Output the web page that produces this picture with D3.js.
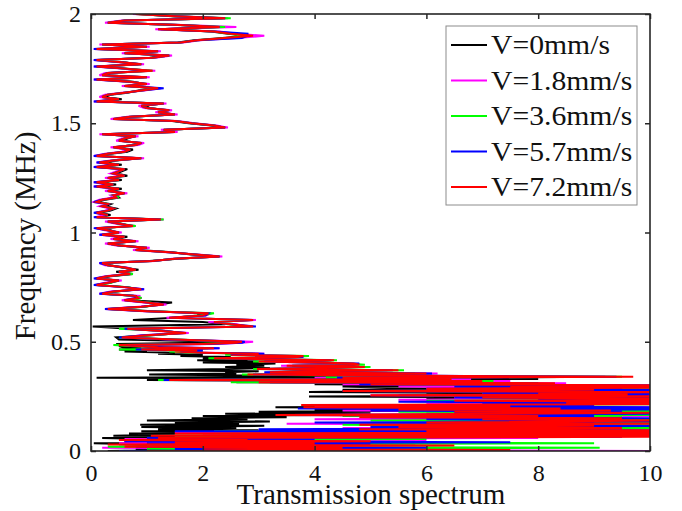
<!DOCTYPE html>
<html><head><meta charset="utf-8">
<script src="https://cdn.jsdelivr.net/npm/d3@7"></script>
<style>body{margin:0;background:#fff}text{font-family:"Liberation Serif","Times New Roman",serif;fill:#111}</style>
</head><body>
<script>
const xTicks=[0,2,4,6,8,10];
const yTicks=[0,0.5,1,1.5,2];
const seriesNames=["V=0mm/s","V=1.8mm/s","V=3.6mm/s","V=5.7mm/s","V=7.2mm/s"];
const seriesColors=["#000000","#ff00ff","#00ff00","#0000ff","#ff0000"];
const freq=[0,0.005,0.01,0.015,0.02,0.025,0.03,0.035,0.04,0.045,0.05,0.055,0.06,0.065,0.07,0.075,0.08,0.085,0.09,0.095,0.1,0.105,0.11,0.115,0.12,0.125,0.13,0.135,0.14,0.145,0.15,0.155,0.16,0.165,0.17,0.175,0.18,0.185,0.19,0.195,0.2,0.205,0.21,0.215,0.22,0.225,0.23,0.235,0.24,0.245,0.25,0.255,0.26,0.265,0.27,0.275,0.28,0.285,0.29,0.295,0.3,0.305,0.31,0.315,0.32,0.325,0.33,0.335,0.34,0.345,0.35,0.355,0.36,0.365,0.37,0.375,0.38,0.385,0.39,0.395,0.4,0.405,0.41,0.415,0.42,0.425,0.43,0.435,0.44,0.445,0.45,0.455,0.46,0.465,0.47,0.475,0.48,0.485,0.49,0.495,
0.5,0.51,0.52,0.53,0.54,0.55,0.56,0.57,0.58,0.59,0.6,0.61,0.62,0.63,0.64,0.65,0.66,0.67,0.68,0.69,0.7,0.71,0.72,0.73,0.74,0.75,0.76,0.77,0.78,0.79,0.8,0.81,0.82,0.83,0.84,0.85,0.86,0.87,0.88,0.89,0.9,0.91,0.92,0.93,0.94,0.95,0.96,0.97,0.98,0.99,1,1.01,1.02,1.03,1.04,1.05,1.06,1.07,1.08,1.09,1.1,1.11,1.12,1.13,1.14,1.15,1.16,1.17,1.18,1.19,1.2,1.21,1.22,1.23,1.24,1.25,1.26,1.27,1.28,1.29,1.3,1.31,1.32,1.33,1.34,1.35,1.36,1.37,1.38,1.39,1.4,1.41,1.42,1.43,1.44,1.45,1.46,1.47,1.48,1.49,1.5,1.51,1.52,1.53,1.54,1.55,1.56,1.57,1.58,1.59,1.6,1.61,1.62,1.63,1.64,1.65,1.66,1.67,1.68,1.69,1.7,1.71,1.72,1.73,1.74,1.75,1.76,1.77,1.78,1.79,1.8,1.81,1.82,1.83,1.84,1.85,1.86,1.87,1.88,1.89,1.9,1.91,1.92,1.93,1.94,1.95,1.96,1.97,1.98,1.99,2];

const v0=[0.3,1.5,0.8,3.0,0.5,2.0,1.0,0.05,2.5,0.6,3.5,1.0,0.2,6.0,0.4,1.5,0.68,5.0,0.9,3.0,
1.2,2.6,0.9,3.1,0.88,2.65,1.5,3.2,1.0,2.8,1.8,3.5,2.0,4.0,2.4,5.0,3.0,6.5,4.0,7.0,
3.3,8.0,5.5,9.0,6.5,8.5,7.0,9.5,6.0,9.0,3.9,9.2,6.0,8.0,3.9,5.3,4.5,7.0,5.3,4.5,
8.0,4.0,7.5,2.6,6.0,1.0,8.0,0.1,4.5,2.9,1.04,2.6,2.4,3.0,1.0,2.45,3.2,2.4,3.1,2.6,
3.3,2.0,3.0,1.9,2.8,2.0,2.5,1.6,2.0,1.2,1.5,0.6,1.0,0.5,0.9,0.57,0.5,0.8,0.45,2.0,
2.5,0.5,0.45,1.1,1.6,1.3,0.7,0.03,2.4,2.0,0.75,1.5,1.9,2.0,1.1,0.35,0.95,1.2,1.45,0.65,
0.9,0.75,0.25,0.45,0.85,0.65,0.12,0.35,0.45,0.15,0.35,0.75,0.45,0.85,0.55,0.35,0.25,1.05,1.55,2.25,
1.75,1.45,0.85,0.95,0.55,0.35,0.75,0.45,0.65,0.25,0.45,0.35,0.15,0.7,0.55,0.35,1.2,0.12,0.35,0.15,
0.35,0.45,0.25,0.35,0.12,0.25,0.5,0.45,0.55,0.35,0.55,0.15,0.45,0.12,0.55,0.35,0.65,0.45,0.55,0.65,
0.12,0.55,0.2,0.45,0.85,0.15,0.35,0.65,0.75,0.45,0.75,0.85,0.55,0.65,0.75,0.25,1.45,1.35,2.35,2.15,
1.75,1.45,0.45,0.75,1.45,1.25,1.35,1.05,0.95,1.25,0.15,0.55,0.25,0.35,0.65,0.85,1.15,0.65,0.95,0.75,
0.15,0.95,0.25,0.35,1.05,0.65,0.15,0.85,0.55,0.15,1.05,1.35,0.65,1.15,0.15,0.95,0.25,1.55,1.85,2.35,
2.8,2.45,2.15,1.25,2.25,1.55,0.35,0.65,2.35,1.45,0.85];

const v18=[10.5,2.0,6.5,0.2,4.0,1.0,5.8,0.5,3.0,1.2,6.0,0.6,8.0,1.5,9.0,2.0,7.5,1.5,9.5,3.0,
8.0,4.5,10.5,5.0,8.5,3.5,9.8,6.5,10.5,4.0,8.0,5.5,10.0,3.5,9.0,6.0,10.5,4.5,8.5,7.0,
10.5,4.0,9.0,6.0,10.5,7.0,9.5,5.5,10.5,6.5,9.0,5.0,10.5,7.5,9.5,4.8,10.5,6.0,9.8,5.5,
9.0,4.5,8.5,3.0,7.5,1.5,6.8,4.0,9.2,4.8,3.0,6.2,3.5,4.2,5.3,3.0,4.0,4.7,3.4,4.6,
4.5,3.8,3.2,4.2,3.0,2.4,3.5,3.7,2.6,3.1,2.1,1.6,1.8,1.0,2.3,1.3,0.9,0.6,2.2,2.7,
2.9,1.4,0.6,0.9,1.75,1.15,0.7,2.8,2.6,2.1,2.95,1.35,2.05,2.15,0.95,0.25,0.85,1.35,0.95,0.55,
0.8,0.85,0.15,0.35,0.95,0.55,0.08,0.25,0.55,0.08,0.25,0.65,0.55,0.75,0.65,0.25,0.15,1.15,1.45,2.35,
1.85,1.35,0.75,1.05,0.45,0.25,0.85,0.35,0.55,0.15,0.55,0.25,0.08,0.8,0.45,0.25,1.3,0.08,0.25,0.08,
0.25,0.35,0.15,0.25,0.05,0.15,0.4,0.35,0.65,0.25,0.45,0.05,0.35,0.05,0.45,0.25,0.55,0.35,0.45,0.55,
0.05,0.45,0.1,0.35,0.95,0.05,0.25,0.55,0.65,0.35,0.85,0.95,0.45,0.55,0.85,0.15,1.55,1.25,2.45,2.25,
1.85,1.55,0.35,0.65,1.55,1.15,1.45,0.95,0.85,1.35,0.05,0.45,0.15,0.25,0.55,0.95,1.25,0.55,1.05,0.65,
0.05,1.05,0.15,0.25,1.15,0.55,0.05,0.95,0.45,0.05,1.15,1.45,0.55,1.25,0.05,1.05,0.15,1.65,1.95,2.6,
3.1,2.6,2.3,1.15,2.6,1.65,0.25,0.55,2.45,1.55,0.75];

const v36=[2.0,5.0,1.0,9.1,0.3,4.0,1.5,9.0,2.5,3.5,0.8,6.0,2.0,7.5,1.5,10.5,3.0,9.0,2.2,8.0,
4.0,10.5,5.5,8.0,4.5,10.5,7.0,10.5,5.0,10.5,6.5,9.5,4.5,10.5,7.0,10.5,5.5,10.5,6.0,10.5,
4.5,9.0,6.0,10.5,7.5,10.5,6.0,10.5,8.5,7.0,10.5,6.0,9.0,7.0,10.5,5.0,9.5,6.5,10.5,7.0,
9.5,5.5,8.0,2.5,7.2,1.2,6.0,4.2,9.5,4.5,2.7,5.8,3.3,3.8,5.6,2.9,4.3,5.0,3.6,4.9,
4.6,4.1,2.9,4.4,3.3,2.1,3.6,3.9,2.4,2.9,1.9,1.4,2.0,0.5,2.1,1.1,0.7,0.4,1.9,2.5,
2.6,1.55,0.5,1.05,1.65,1.25,0.5,2.85,2.45,2.25,2.85,1.45,1.95,2.2,1.05,0.3,0.95,1.25,1.05,0.65,
0.9,0.75,0.2,0.45,0.85,0.65,0.1,0.35,0.5,0.1,0.3,0.75,0.5,0.8,0.6,0.3,0.2,1.1,1.5,2.3,
1.8,1.4,0.8,1.0,0.5,0.3,0.8,0.4,0.6,0.2,0.5,0.3,0.1,0.8,0.5,0.3,1.3,0.1,0.3,0.1,
0.3,0.4,0.2,0.3,0.1,0.2,0.5,0.4,0.6,0.3,0.5,0.1,0.4,0.1,0.5,0.3,0.6,0.4,0.5,0.6,
0.1,0.5,0.15,0.4,0.9,0.1,0.3,0.6,0.7,0.4,0.8,0.9,0.5,0.6,0.8,0.2,1.5,1.3,2.4,2.2,
1.8,1.5,0.4,0.7,1.5,1.2,1.4,1.0,0.9,1.3,0.1,0.5,0.2,0.3,0.6,0.9,1.2,0.6,1.0,0.7,
0.1,1.0,0.2,0.3,1.1,0.6,0.1,0.9,0.5,0.1,1.1,1.4,0.6,1.2,0.1,1.0,0.2,1.6,1.9,2.5,
2.7,2.5,2.2,1.3,2.4,1.6,0.3,0.6,2.5,1.5,0.8];

const v57=[0.5,3.0,1.5,6.0,0.8,2.5,5.0,1.0,7.5,0.6,2.0,4.0,1.0,9.5,2.5,10.5,3.5,8.0,1.5,10.0,
3.0,8.5,5.0,10.5,6.0,9.0,4.0,10.2,8.5,6.0,10.5,5.0,9.0,3.5,10.0,6.5,9.5,5.0,10.5,3.7,
10.5,6.0,9.0,7.0,10.5,5.5,9.5,8.0,10.5,6.5,10.0,5.5,10.5,7.0,9.0,4.5,10.5,6.0,9.5,6.5,
10.5,4.8,8.0,3.2,6.8,1.3,6.2,4.4,9.4,5.2,2.9,6.1,3.1,4.1,5.4,3.1,4.1,4.8,3.6,4.7,
4.8,3.9,3.1,4.3,3.1,2.3,3.8,3.7,2.5,3.1,2.0,1.6,2.0,0.8,2.3,1.3,0.8,0.6,2.1,2.7,
2.75,1.45,0.5,0.95,1.7,1.25,0.6,2.95,2.5,2.2,2.9,1.4,2.05,2.1,1.0,0.25,0.9,1.3,1.0,0.6,
0.8,0.8,0.15,0.4,0.95,0.6,0.05,0.3,0.5,0.05,0.3,0.7,0.5,0.8,0.6,0.3,0.15,1.1,1.5,2.3,
1.8,1.4,0.8,1.0,0.5,0.3,0.8,0.4,0.6,0.15,0.5,0.3,0.05,0.75,0.5,0.3,1.25,0.05,0.3,0.05,
0.3,0.4,0.2,0.3,0.05,0.2,0.45,0.4,0.6,0.3,0.5,0.05,0.4,0.05,0.5,0.3,0.6,0.4,0.5,0.6,
0.05,0.5,0.1,0.4,0.9,0.05,0.3,0.6,0.7,0.4,0.8,0.9,0.5,0.6,0.8,0.2,1.5,1.3,2.4,2.2,
1.8,1.5,0.4,0.7,1.5,1.2,1.4,1.0,0.9,1.3,0.05,0.5,0.2,0.3,0.6,0.9,1.3,0.6,1.0,0.7,
0.05,1.0,0.2,0.3,1.0,0.6,0.05,0.9,0.5,0.05,1.1,1.4,0.6,1.2,0.05,1.0,0.2,1.6,1.9,2.7,
2.8,2.8,2.2,1.2,2.3,1.6,0.3,0.6,2.4,1.5,0.9];

const v72=[1.0,7.5,2.0,4.5,0.6,6.5,0.3,4.0,1.5,5.0,0.5,2.8,1.2,10.5,1.07,11,1.5,10.5,6.0,10.5,
4.8,9.5,5.5,9.0,4.8,11,6.0,8.5,10.2,7.0,9.5,4.8,8.0,3.3,7.5,10,6.5,9.3,5.5,8.4,
3.8,7.5,3.76,11,8.5,11,6.5,11,9.8,7.0,10.5,5.0,9.6,8.0,10.5,4.5,9.0,6.0,10.5,7.5,
10.5,5.0,8.3,3.0,7.0,1.4,6.45,4.5,9.7,5.0,2.8,6.0,3.2,4.0,5.5,2.97,4.2,4.9,3.5,4.8,
4.7,4.0,3.0,4.35,3.2,2.2,3.7,3.8,2.5,3.0,2.0,1.5,1.9,0.9,2.2,1.2,0.8,0.5,2.0,2.6,
2.7,1.5,0.55,1.0,1.7,1.2,0.65,2.9,2.5,2.2,2.9,1.4,2.0,2.1,1.0,0.3,0.9,1.3,1.0,0.6,
0.85,0.8,0.2,0.4,0.9,0.6,0.1,0.3,0.5,0.1,0.3,0.7,0.5,0.8,0.6,0.3,0.2,1.1,1.5,2.3,
1.8,1.4,0.8,1.0,0.5,0.3,0.8,0.4,0.6,0.2,0.5,0.3,0.1,0.75,0.5,0.3,1.25,0.1,0.3,0.1,
0.3,0.4,0.2,0.3,0.1,0.2,0.45,0.4,0.6,0.3,0.5,0.1,0.4,0.1,0.5,0.3,0.6,0.4,0.5,0.6,
0.1,0.5,0.15,0.4,0.9,0.1,0.3,0.6,0.7,0.4,0.8,0.9,0.5,0.6,0.8,0.2,1.5,1.3,2.4,2.2,
1.8,1.5,0.4,0.7,1.5,1.2,1.4,1.0,0.9,1.3,0.1,0.5,0.2,0.3,0.6,0.9,1.2,0.6,1.0,0.7,
0.1,1.0,0.2,0.3,1.1,0.6,0.1,0.9,0.5,0.1,1.1,1.4,0.6,1.2,0.1,1.0,0.2,1.6,1.9,2.4,
2.9,2.5,2.2,1.2,2.3,1.6,0.3,0.6,2.4,1.5,0.8];

const seriesValues=[v0,v18,v36,v57,v72];

const W=682,H=511;
const svg=d3.select("body").append("svg").attr("width",W).attr("height",H);
const x=d3.scaleLinear().domain([0,10]).range([91,650]);
const y=d3.scaleLinear().domain([0,2]).range([451,14]);

svg.append("defs").append("clipPath").attr("id","clip").append("rect")
  .attr("x",91).attr("y",14).attr("width",559).attr("height",437);

const line=d3.line().x(d=>x(d[0])).y(d=>y(d[1]));
const plot=svg.append("g").attr("clip-path","url(#clip)");
seriesValues.forEach((vals,i)=>{
  const pts=vals.map((v,j)=>[v,freq[j]]);
  plot.append("path").attr("d",line(pts)).attr("fill","none")
    .attr("stroke",seriesColors[i]).attr("stroke-width",2);
});

const tickFmt=d=>String(d);
const axB=svg.append("g").attr("transform","translate(0,451)")
  .call(d3.axisBottom(x).tickValues(xTicks).tickSize(-5).tickPadding(10).tickFormat(tickFmt));
const axT=svg.append("g").attr("transform","translate(0,14)")
  .call(d3.axisTop(x).tickValues(xTicks).tickSize(-5).tickFormat(""));
const axL=svg.append("g").attr("transform","translate(91,0)")
  .call(d3.axisLeft(y).tickValues(yTicks).tickSize(-5).tickPadding(10).tickFormat(tickFmt));
const axR=svg.append("g").attr("transform","translate(650,0)")
  .call(d3.axisRight(y).tickValues(yTicks).tickSize(-5).tickFormat(""));
[axB,axT,axL,axR].forEach(a=>{
  a.select(".domain").remove();
  a.selectAll(".tick line").attr("stroke","#262626").attr("stroke-width",1.5);
  a.selectAll("text").attr("font-size",24).attr("font-family","Liberation Serif, serif").attr("fill","#111");
});
axB.selectAll("text").attr("dy","0.85em");
svg.append("rect").attr("x",91).attr("y",14).attr("width",559).attr("height",437)
  .attr("fill","none").attr("stroke","#262626").attr("stroke-width",1.6);

svg.append("text").attr("x",371).attr("y",504).attr("text-anchor","middle")
  .attr("font-size",29).text("Transmission spectrum");
svg.append("text").attr("transform","translate(35,236) rotate(-90)").attr("text-anchor","middle")
  .attr("font-size",29).text("Frequency (MHz)");

const lg=svg.append("g");
lg.append("rect").attr("x",446).attr("y",26).attr("width",191).attr("height",179)
  .attr("fill","#fff").attr("stroke","#8c8c8c").attr("stroke-width",1);
seriesNames.forEach((n,i)=>{
  const cy=45+i*35.5;
  lg.append("line").attr("x1",451).attr("x2",487).attr("y1",cy).attr("y2",cy)
    .attr("stroke",seriesColors[i]).attr("stroke-width",2);
  lg.append("text").attr("transform",`translate(491,${cy+9}) scale(1.12,1)`)
    .attr("font-size",26.5).text(n);
});
</script>
</body></html>
